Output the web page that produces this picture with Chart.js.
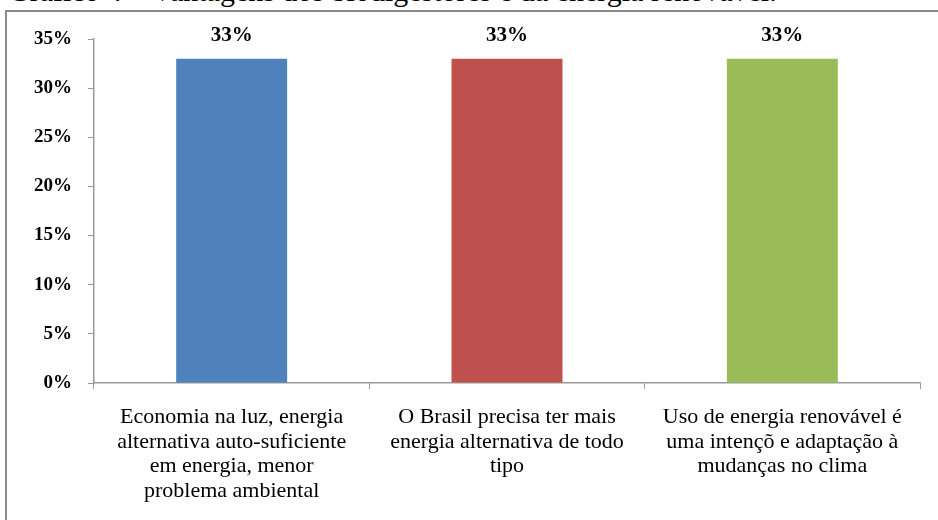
<!DOCTYPE html>
<html>
<head>
<meta charset="utf-8">
<script src="https://cdn.jsdelivr.net/npm/chart.js@4"></script>
<style>
  body { margin: 0; background: #fff; }
  #wrap { position: relative; width: 938px; height: 520px; overflow: hidden; }
  #titulo { position: absolute; left: 8px; top: -26px; font: 30px/34px "Liberation Serif", serif; color: #000; white-space: nowrap; }
  #moldura { position: absolute; left: 5px; top: 10px; width: 940px; height: 520px; border-left: 2px solid #8a8a8a; border-top: 2px solid #8a8a8a; background: transparent; }
  canvas { position: absolute; left: 0; top: 0; }
</style>
</head>
<body>
<div id="wrap">
  <div id="titulo">Gráfico 4 – Vantagens dos biodigestores e da energia renovável.</div>
  <div id="moldura"></div>
  <canvas id="grafico" width="938" height="520"></canvas>
</div>
<script>
const categorias = [
    ['Economia na luz, energia', 'alternativa auto-suficiente', 'em energia, menor', 'problema ambiental'],
    ['O Brasil precisa ter mais', 'energia alternativa de todo', 'tipo'],
    ['Uso de energia renovável é', 'uma intençõ e adaptação à', 'mudanças no clima']
];
const valores = [33, 33, 33];
const cores = ['#4f81bd', '#c0504d', '#9bbb59'];
const ticksY = [0, 5, 10, 15, 20, 25, 30, 35];

// rotulos de valor em cima das barras
const rotulos = {
    id: 'rotulos',
    afterDatasetsDraw(chart) {
        const ctx = chart.ctx;
        const meta = chart.getDatasetMeta(0);
        ctx.save();
        ctx.font = 'bold 21px "Liberation Serif", serif';
        ctx.fillStyle = '#000';
        ctx.textAlign = 'center';
        ctx.textBaseline = 'middle';
        meta.data.forEach((bar, i) => {
            ctx.fillText(valores[i] + '%', bar.x, bar.y - 23);
        });
        ctx.restore();
    }
};

const ctx = document.getElementById('grafico').getContext('2d');
const grafico = new Chart(ctx, {
    type: 'bar',
    data: {
        labels: categorias,
        datasets: [{
            data: valores,
            backgroundColor: cores,
            borderWidth: 0,
            categoryPercentage: 1,
            barPercentage: 0.403
        }]
    },
    options: {
        responsive: false,
        animation: false,
        layout: { padding: { top: 39, right: 18, left: 0, bottom: 0 } },
        plugins: { legend: { display: false }, tooltip: { enabled: false } },
        scales: {
            y: {
                min: 0,
                max: 35,
                afterFit: s => { s.width = 94; },
                afterBuildTicks: s => { s.ticks = ticksY.map(v => ({ value: v })); },
                ticks: {
                    callback: v => v + '%',
                    color: '#000',
                    padding: 16,
                    font: { family: '"Liberation Serif", serif', size: 19, weight: 'bold' }
                },
                grid: { drawOnChartArea: false, tickLength: 6, color: '#999' },
                border: { color: '#999', width: 1.5 }
            },
            x: {
                afterFit: s => { s.height = 137; },
                ticks: {
                    color: '#000',
                    padding: 16,
                    maxRotation: 0,
                    autoSkip: false,
                    font: { family: '"Liberation Serif", serif', size: 22, lineHeight: 1.12 }
                },
                grid: { drawOnChartArea: false, tickLength: 6, color: '#999', offset: true },
                border: { color: '#999', width: 1.5 }
            }
        }
    },
    plugins: [rotulos]
});
</script>
</body>
</html>
